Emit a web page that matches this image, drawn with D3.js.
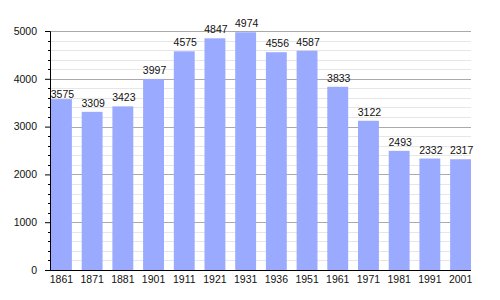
<!DOCTYPE html>
<html>
<head>
<meta charset="utf-8">
<script src="https://cdn.jsdelivr.net/npm/d3@7"></script>
<style>
  html, body { margin: 0; padding: 0; background: #fff; }
  svg { display: block; font-family: "Liberation Sans", Arial, sans-serif; }
</style>
</head>
<body>
<div id="chart"></div>
<script>
// Population by census year
const years = ['1861', '1871', '1881', '1901', '1911', '1921', '1931', '1936', '1951', '1961', '1971', '1981', '1991', '2001'];
const population = [3575, 3309, 3423, 3997, 4575, 4847, 4974, 4556, 4587, 3833, 3122, 2493, 2332, 2317];
const yTicks = [0, 1000, 2000, 3000, 4000, 5000];

const W = 500, H = 300;
const M = { top: 31, right: 29, bottom: 30, left: 50 };
const innerW = W - M.left - M.right;
const innerH = H - M.top - M.bottom;

const svg = d3.select('#chart').append('svg')
  .attr('width', W).attr('height', H);

const g = svg.append('g').attr('transform', `translate(${M.left},${M.top})`);

const x = d3.scaleBand().domain(years).range([1, innerW])
  .paddingInner(0.32).paddingOuter(0);
const y = d3.scaleLinear().domain([0, 5000]).range([innerH, 0]);

// minor grid every 200
const minor = d3.range(200, 5000, 200).filter(v => v % 1000 !== 0);
g.selectAll('.minor').data(minor).join('line')
  .attr('x1', 0).attr('x2', innerW)
  .attr('y1', d => Math.round(y(d)) + 0.5).attr('y2', d => Math.round(y(d)) + 0.5)
  .attr('stroke', '#e6e6e6');

// major grid every 1000
g.selectAll('.major').data(yTicks.slice(1)).join('line')
  .attr('x1', 0).attr('x2', innerW)
  .attr('y1', d => Math.round(y(d)) + 0.5).attr('y2', d => Math.round(y(d)) + 0.5)
  .attr('stroke', '#aaaaaa');

// bars
g.selectAll('.bar').data(years).join('rect')
  .attr('x', d => x(d))
  .attr('y', (d, i) => y(population[i]))
  .attr('width', x.bandwidth())
  .attr('height', (d, i) => innerH - y(population[i]))
  .attr('fill', '#99aaff');

// value labels
g.selectAll('.val').data(years).join('text')
  .attr('x', d => x(d) + x.bandwidth() / 2 + 1)
  .attr('y', (d, i) => y(population[i]) - (i === 0 ? 1 : 5))
  .attr('text-anchor', 'middle')
  .attr('font-size', 10.5)
  .attr('fill', '#111')
  .text((d, i) => population[i]);

// y axis
const yAxis = g.append('g')
  .call(d3.axisLeft(y).tickValues(yTicks).tickFormat(d3.format('d')).tickSize(5).tickPadding(8))
  .call(a => a.select('.domain').attr('stroke', '#000'));
yAxis.selectAll('text').attr('font-size', 10.5).attr('fill', '#111').attr('font-family', null);
yAxis.selectAll('.tick line').attr('stroke', '#000');
g.selectAll('.ytickm').data(minor).join('line')
  .attr('x1', -2).attr('x2', 0)
  .attr('y1', d => Math.round(y(d)) + 0.5).attr('y2', d => Math.round(y(d)) + 0.5)
  .attr('stroke', '#000');

// x axis
const xAxis = g.append('g').attr('transform', `translate(0,${innerH})`)
  .call(d3.axisBottom(x).tickSize(0).tickPadding(6));
xAxis.select('.domain').attr('stroke', '#000').attr('d', `M0,0.5H${innerW}`);
xAxis.selectAll('text').attr('font-size', 10.5).attr('fill', '#111').attr('font-family', null);
</script>
</body>
</html>
